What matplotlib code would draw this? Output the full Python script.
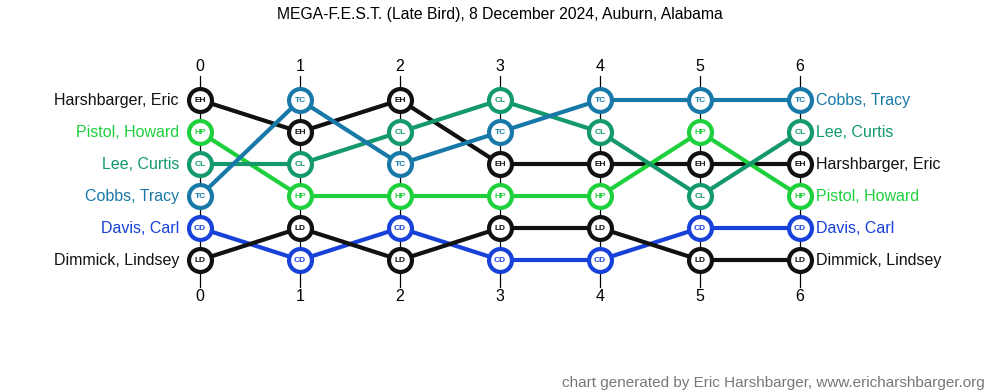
import numpy as np
import matplotlib.pyplot as plt

plt.rcParams['font.family'] = ['Liberation Sans', 'DejaVu Sans']

title = 'MEGA-F.E.S.T. (Late Bird), 8 December 2024, Auburn, Alabama'
rounds = [0, 1, 2, 3, 4, 5, 6]
names = ['Harshbarger, Eric', 'Pistol, Howard', 'Lee, Curtis',
         'Cobbs, Tracy', 'Davis, Carl', 'Dimmick, Lindsey']
initials = ['EH', 'HP', 'CL', 'TC', 'CD', 'LD']
colors = ['#111111', '#1ed03c', '#13996b', '#1878a8', '#1741d9', '#111111']

# rank of each player after each round
ranks = {
    'EH': [1, 2, 1, 3, 3, 3, 3],
    'HP': [2, 4, 4, 4, 4, 2, 4],
    'CL': [3, 3, 2, 1, 2, 4, 2],
    'TC': [4, 1, 3, 2, 1, 1, 1],
    'CD': [5, 6, 5, 6, 6, 5, 5],
    'LD': [6, 5, 6, 5, 5, 6, 6],
}

fig = plt.figure(figsize=(10, 3.92), dpi=100)
ax = fig.add_axes([0, 0, 1, 1])
ax.set_xlim(-2, 8)
ax.set_ylim(10.125, -2.125)
ax.axis('off')

for r in rounds:
    ax.plot([r, r], [0.25, 6.85], color='black', lw=0.9, zorder=1)
    ax.text(r, -0.05, str(r), ha='center', va='center', fontsize=11.5)
    ax.text(r, 7.15, str(r), ha='center', va='center', fontsize=11.5)

for name, ini, c in zip(names, initials, colors):
    ys = ranks[ini]
    ax.plot(rounds, ys, color=c, lw=3, zorder=2)
    ax.plot(rounds, ys, 'o', ms=16.5, mfc='white', mec=c, mew=3, zorder=3)
    for x, y in zip(rounds, ys):
        ax.text(x, y, ini, ha='center', va='center', fontsize=6,
                fontweight='bold', color=c, zorder=4)
    ax.text(rounds[0] - 0.21, ys[0], name, ha='right', va='center',
            fontsize=11.5, color=c)
    ax.text(rounds[-1] + 0.16, ys[-1], name, ha='left', va='center',
            fontsize=11.5, color=c)

fig.text(0.5, 0.962, title, ha='center', va='center', fontsize=11.3)
fig.text(0.985, 0.023, 'chart generated by Eric Harshbarger, www.ericharshbarger.org',
         ha='right', va='center', fontsize=11, color='#777777')

fig.savefig('out.png', dpi=100)
